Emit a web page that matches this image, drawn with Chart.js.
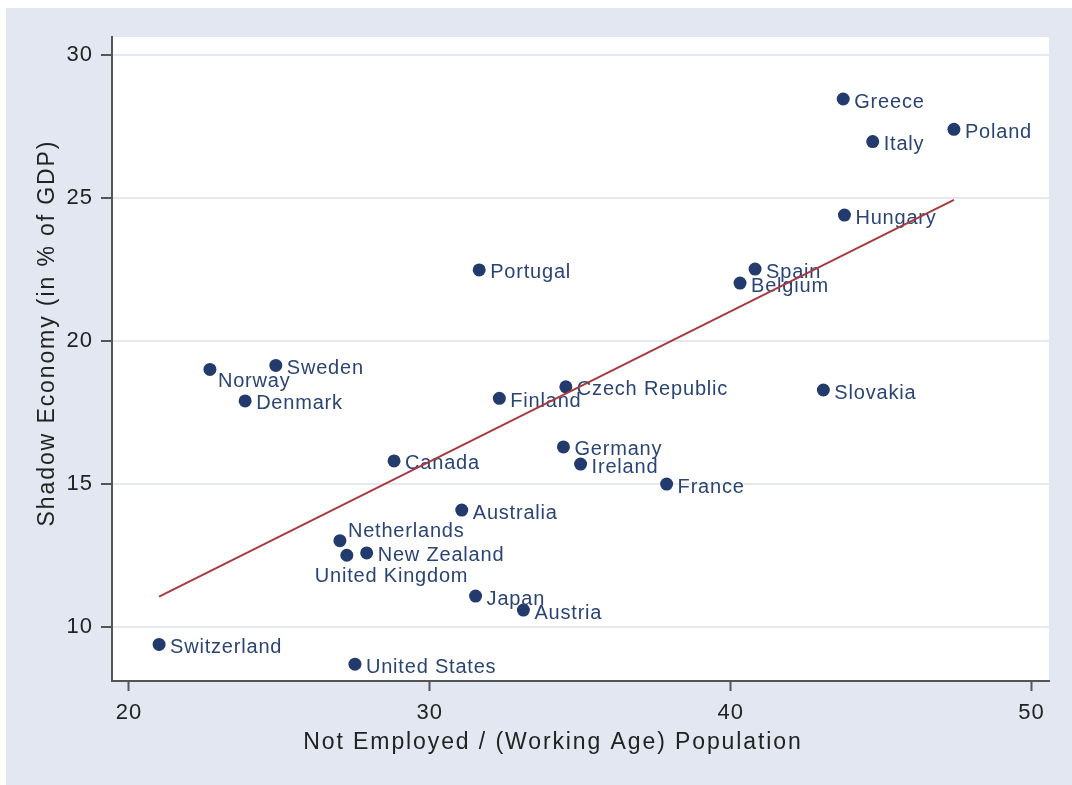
<!DOCTYPE html>
<html>
<head>
<meta charset="utf-8">
<script src="https://cdn.jsdelivr.net/npm/chart.js@4.4.1/dist/chart.umd.min.js"></script>
<style>
  html, body { margin: 0; padding: 0; background: #ffffff; }
  canvas { display: block; }
</style>
</head>
<body>
<canvas id="chart" width="1072" height="785"></canvas>
<script>
// ── Data ────────────────────────────────────────────────────
const countries = [
    'Greece', 'Poland', 'Italy', 'Hungary', 'Portugal', 'Spain', 'Belgium',
    'Sweden', 'Norway', 'Denmark', 'Finland', 'Czech Republic', 'Slovakia',
    'Germany', 'Ireland', 'Canada', 'France', 'Australia', 'Netherlands',
    'New Zealand', 'United Kingdom', 'Japan', 'Austria', 'Switzerland', 'United States',
];
const notEmployed = [
    43.74, 47.42, 44.72, 43.78, 31.64, 40.81, 40.31,
    24.88, 22.69, 23.86, 32.31, 34.52, 43.08,
    34.44, 35.01, 28.81, 37.87, 31.06, 27.01,
    27.90, 27.24, 31.52, 33.11, 21.00, 27.51,
];
const shadowEconomy = [
    28.46, 27.40, 26.97, 24.40, 22.48, 22.51, 22.02,
    19.14, 19.00, 17.90, 17.99, 18.39, 18.28,
    16.29, 15.69, 15.80, 14.99, 14.08, 13.01,
    12.58, 12.50, 11.07, 10.58, 9.38, 8.69,
];
// marker label position (clock), as in Stata's mlabvposition
const labelClock = [
    3, 3, 3, 3, 3, 3, 3,
    3, 4, 3, 3, 3, 3,
    3, 3, 3, 3, 3, 2,
    3, 6, 3, 3, 3, 3,
];
// linear fit end points
const fitX = [21.00, 47.42];
const fitY = [11.05, 24.93];

const xTicks = [20, 30, 40, 50];
const yTicks = [10, 15, 20, 25, 30];
const xTitle = 'Not Employed / (Working Age) Population';
const yTitle = 'Shadow Economy (in % of GDP)';

// ── Style ───────────────────────────────────────────────────
const FONT = "'Liberation Sans', Arial, sans-serif";
const COLORS = {
    outer: '#e2e7f1',
    grid: '#e3e8f1',
    axis: '#555555',
    text: '#222222',
    marker: '#233b6c',
    label: '#2a4474',
    fit: '#a83a40',
};

// label offsets per clock position: [dx, dy] from marker centre to text left/middle
const CLOCK_OFFSET = {
    2: [8, -9],
    3: [11, 3],
    4: [8, 12],
    6: [-32, 21],
};

// ── Plugins ─────────────────────────────────────────────────
const stataBackground = {
    id: 'stataBackground',
    beforeDraw(chart) {
        const { ctx, chartArea: a } = chart;
        ctx.save();
        ctx.fillStyle = '#ffffff';
        ctx.fillRect(0, 0, chart.width, chart.height);
        ctx.fillStyle = COLORS.outer;
        ctx.fillRect(6, 8, chart.width - 6, chart.height - 8);
        ctx.fillStyle = '#ffffff';
        ctx.fillRect(a.left, a.top, a.right - a.left, a.bottom - a.top);
        ctx.restore();
        ctx.letterSpacing = '1px';   // tick labels
    },
};

const markerLabels = {
    id: 'markerLabels',
    afterDatasetDraw(chart, args) {
        if (args.index !== 0) return;
        const { ctx, scales } = chart;
        ctx.save();
        ctx.letterSpacing = '0.8px';
        ctx.font = `20px ${FONT}`;
        ctx.fillStyle = COLORS.label;
        ctx.textAlign = 'left';
        ctx.textBaseline = 'middle';
        countries.forEach((name, i) => {
            const px = scales.x.getPixelForValue(notEmployed[i]);
            const py = scales.y.getPixelForValue(shadowEconomy[i]);
            const off = CLOCK_OFFSET[labelClock[i]] || CLOCK_OFFSET[3];
            ctx.fillText(name, px + off[0], py + off[1]);
        });
        ctx.restore();
    },
};

const axisTitles = {
    id: 'axisTitles',
    afterDraw(chart) {
        const { ctx } = chart;
        ctx.save();
        ctx.letterSpacing = '1.9px';
        ctx.font = `23px ${FONT}`;
        ctx.fillStyle = COLORS.text;
        ctx.textAlign = 'center';
        ctx.textBaseline = 'middle';
        ctx.fillText(xTitle, 553, 743);
        ctx.translate(48, 333);
        ctx.rotate(-Math.PI / 2);
        ctx.fillText(yTitle, 0, 0);
        ctx.restore();
        ctx.letterSpacing = '0px';
    },
};

// ── Chart ───────────────────────────────────────────────────
const points = notEmployed.map((x, i) => ({ x: x, y: shadowEconomy[i] }));
const fitLine = fitX.map((x, i) => ({ x: x, y: fitY[i] }));

new Chart(document.getElementById('chart'), {
    type: 'scatter',
    data: {
        datasets: [{
            data: points,
            order: 2,
            pointRadius: 6.5,
            pointBackgroundColor: COLORS.marker,
            pointBorderWidth: 0,
        }, {
            type: 'line',
            data: fitLine,
            order: 1,
            borderColor: COLORS.fit,
            borderWidth: 2,
            pointRadius: 0,
            fill: false,
        }],
    },
    options: {
        responsive: false,
        animation: false,
        events: [],
        layout: {
            padding: { top: 37, right: 23, bottom: 0, left: 0 },
        },
        plugins: {
            legend: { display: false },
            tooltip: { enabled: false },
        },
        scales: {
            x: {
                type: 'linear',
                min: 19.435,
                max: 50.58,
                afterBuildTicks: s => { s.ticks = xTicks.map(v => ({ value: v })); },
                afterFit: s => { s.height = 104; },
                grid: {
                    drawOnChartArea: false,
                    tickLength: 10,
                    tickColor: COLORS.axis,
                    tickWidth: 2,
                },
                border: { display: true, color: COLORS.axis, width: 2 },
                ticks: {
                    padding: 9,
                    color: COLORS.text,
                    maxRotation: 0,
                    font: { family: FONT, size: 22 },
                },
            },
            y: {
                type: 'linear',
                min: 8.10,
                max: 30.63,
                afterBuildTicks: s => { s.ticks = yTicks.map(v => ({ value: v })); },
                afterFit: s => { s.width = 112; },
                grid: {
                    color: COLORS.grid,
                    lineWidth: 2,
                    tickLength: 11,
                    tickColor: COLORS.axis,
                    tickWidth: 2,
                },
                border: { display: true, color: COLORS.axis, width: 2 },
                ticks: {
                    padding: 8,
                    color: COLORS.text,
                    font: { family: FONT, size: 22 },
                },
            },
        },
    },
    plugins: [stataBackground, markerLabels, axisTitles],
});
</script>
</body>
</html>
